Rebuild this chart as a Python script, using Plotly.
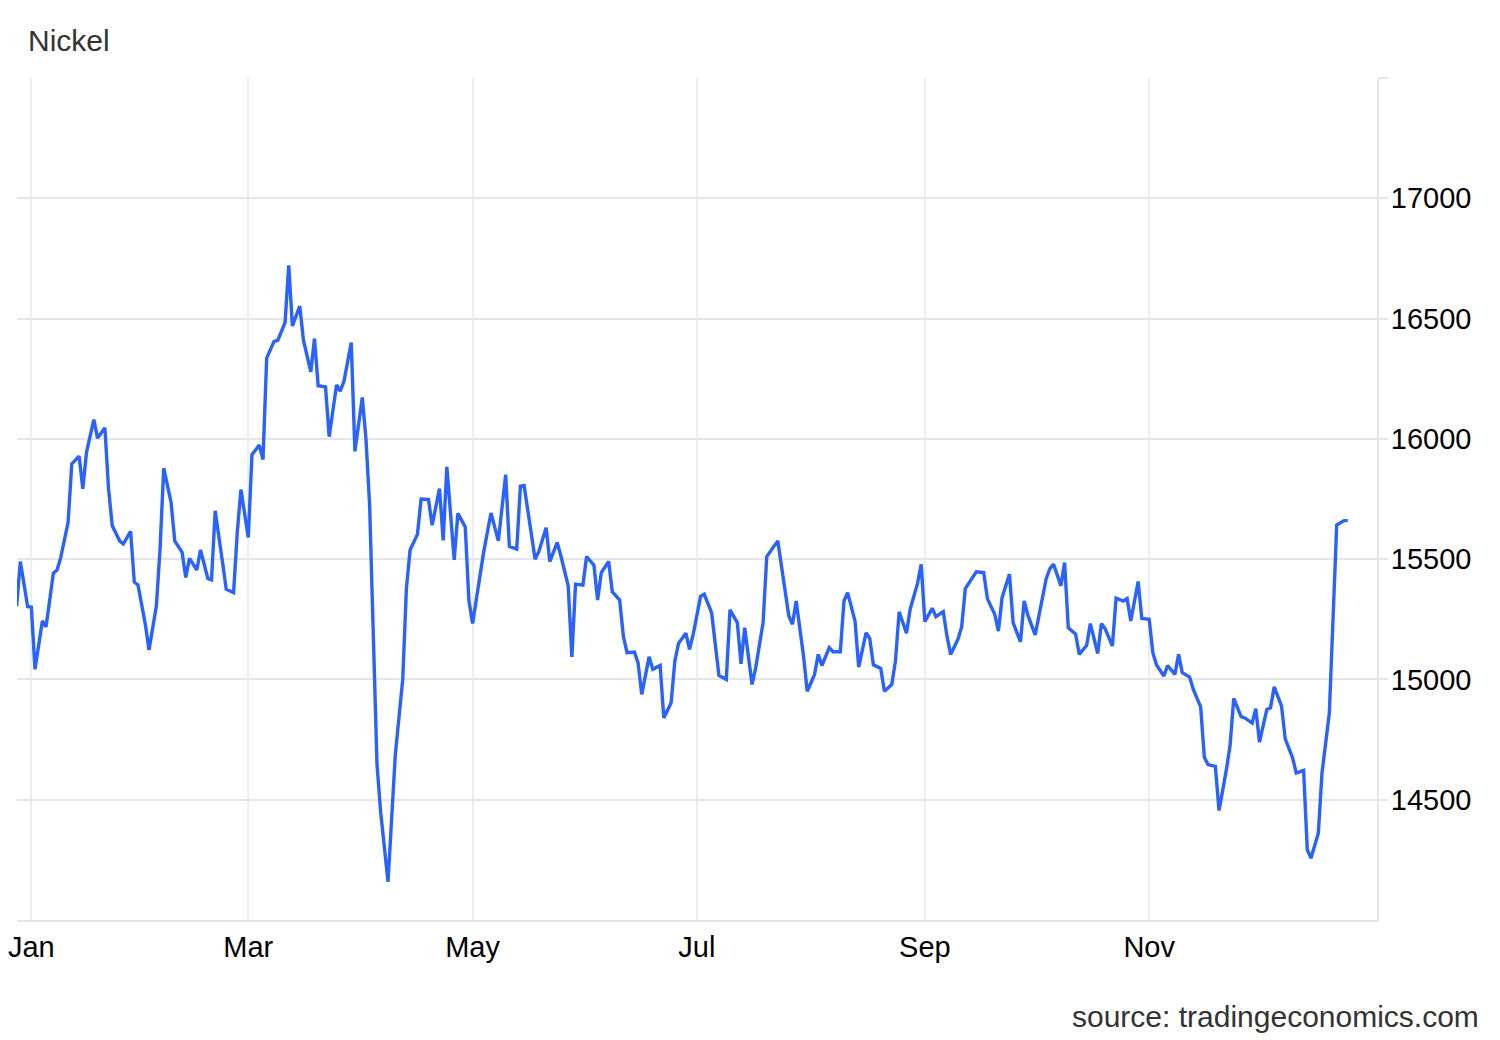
import plotly.graph_objects as go

dates = [
    "2024-12-28", "2024-12-29", "2024-12-31", "2025-01-01", "2025-01-02", "2025-01-04", "2025-01-05",
    "2025-01-07", "2025-01-08", "2025-01-09", "2025-01-11", "2025-01-12", "2025-01-14", "2025-01-15",
    "2025-01-16", "2025-01-18", "2025-01-19", "2025-01-21", "2025-01-22", "2025-01-23", "2025-01-25",
    "2025-01-26", "2025-01-28", "2025-01-29", "2025-01-30", "2025-02-01", "2025-02-02", "2025-02-04",
    "2025-02-05", "2025-02-06", "2025-02-08", "2025-02-09", "2025-02-11", "2025-02-12", "2025-02-13",
    "2025-02-15", "2025-02-16", "2025-02-18", "2025-02-19", "2025-02-20", "2025-02-22", "2025-02-23",
    "2025-02-25", "2025-02-26", "2025-02-27", "2025-03-01", "2025-03-02", "2025-03-04", "2025-03-05",
    "2025-03-06", "2025-03-08", "2025-03-09", "2025-03-11", "2025-03-12", "2025-03-13", "2025-03-15",
    "2025-03-16", "2025-03-18", "2025-03-19", "2025-03-20", "2025-03-22", "2025-03-23", "2025-03-25",
    "2025-03-26", "2025-03-27", "2025-03-29", "2025-03-30", "2025-04-01", "2025-04-02", "2025-04-03",
    "2025-04-05", "2025-04-06", "2025-04-08", "2025-04-09", "2025-04-10", "2025-04-12", "2025-04-13",
    "2025-04-14", "2025-04-16", "2025-04-17", "2025-04-19", "2025-04-20", "2025-04-22", "2025-04-23",
    "2025-04-24", "2025-04-26", "2025-04-27", "2025-04-29", "2025-04-30", "2025-05-01", "2025-05-03",
    "2025-05-04", "2025-05-06", "2025-05-07", "2025-05-08", "2025-05-10", "2025-05-11", "2025-05-13",
    "2025-05-14", "2025-05-15", "2025-05-17", "2025-05-18", "2025-05-19", "2025-05-21", "2025-05-22",
    "2025-05-24", "2025-05-25", "2025-05-27", "2025-05-28", "2025-05-29", "2025-05-31", "2025-06-01",
    "2025-06-03", "2025-06-04", "2025-06-05", "2025-06-07", "2025-06-08", "2025-06-10", "2025-06-11",
    "2025-06-12", "2025-06-14", "2025-06-15", "2025-06-16", "2025-06-18", "2025-06-19", "2025-06-21",
    "2025-06-22", "2025-06-24", "2025-06-25", "2025-06-26", "2025-06-28", "2025-06-29", "2025-06-30",
    "2025-07-02", "2025-07-03", "2025-07-05", "2025-07-06", "2025-07-07", "2025-07-09", "2025-07-10",
    "2025-07-12", "2025-07-13", "2025-07-14", "2025-07-16", "2025-07-17", "2025-07-19", "2025-07-20",
    "2025-07-21", "2025-07-23", "2025-07-24", "2025-07-26", "2025-07-27", "2025-07-28", "2025-07-30",
    "2025-07-31", "2025-08-02", "2025-08-03", "2025-08-04", "2025-08-06", "2025-08-07", "2025-08-09",
    "2025-08-10", "2025-08-11", "2025-08-13", "2025-08-14", "2025-08-16", "2025-08-17", "2025-08-18",
    "2025-08-20", "2025-08-21", "2025-08-23", "2025-08-24", "2025-08-25", "2025-08-27", "2025-08-28",
    "2025-08-30", "2025-08-31", "2025-09-01", "2025-09-03", "2025-09-04", "2025-09-06", "2025-09-07",
    "2025-09-08", "2025-09-10", "2025-09-11", "2025-09-12", "2025-09-14", "2025-09-15", "2025-09-17",
    "2025-09-18", "2025-09-20", "2025-09-21", "2025-09-22", "2025-09-24", "2025-09-25", "2025-09-27",
    "2025-09-28", "2025-09-29", "2025-10-01", "2025-10-02", "2025-10-04", "2025-10-05", "2025-10-06",
    "2025-10-08", "2025-10-09", "2025-10-10", "2025-10-12", "2025-10-13", "2025-10-15", "2025-10-16",
    "2025-10-18", "2025-10-19", "2025-10-20", "2025-10-22", "2025-10-23", "2025-10-25", "2025-10-26",
    "2025-10-27", "2025-10-29", "2025-10-30", "2025-11-01", "2025-11-02", "2025-11-03", "2025-11-05",
    "2025-11-06", "2025-11-08", "2025-11-09", "2025-11-10", "2025-11-12", "2025-11-13", "2025-11-15",
    "2025-11-16", "2025-11-17", "2025-11-19", "2025-11-20", "2025-11-22", "2025-11-23", "2025-11-24",
    "2025-11-26", "2025-11-27", "2025-11-29", "2025-11-30", "2025-12-01", "2025-12-03", "2025-12-04",
    "2025-12-05", "2025-12-07", "2025-12-08", "2025-12-10", "2025-12-11", "2025-12-13", "2025-12-14",
    "2025-12-15", "2025-12-17", "2025-12-18", "2025-12-20", "2025-12-22", "2025-12-24", "2025-12-25",
]

prices = [
    15305, 15490, 15303, 15300, 15042, 15243, 15219,
    15442, 15455, 15507, 15653, 15896, 15928, 15792,
    15944, 16080, 16003, 16046, 15792, 15639, 15576,
    15563, 15615, 15405, 15393, 15229, 15122, 15305,
    15542, 15878, 15736, 15576, 15528, 15424, 15503,
    15455, 15538, 15420, 15414, 15701, 15486, 15375,
    15361, 15611, 15789, 15590, 15934, 15974, 15914,
    16336, 16405, 16409, 16483, 16721, 16469, 16552,
    16410, 16279, 16417, 16221, 16216, 16009, 16224,
    16198, 16238, 16400, 15948, 16172, 16000, 15724,
    14647, 14448, 14159, 14414, 14690, 15000, 15379,
    15538, 15603, 15750, 15748, 15641, 15793, 15578,
    15884, 15497, 15690, 15634, 15328, 15233, 15431,
    15528, 15692, 15639, 15576, 15851, 15553, 15542,
    15803, 15806, 15604, 15500, 15531, 15631, 15490,
    15569, 15514, 15389, 15094, 15396, 15392, 15511,
    15475, 15330, 15444, 15490, 15364, 15330, 15180,
    15111, 15114, 15069, 14938, 15094, 15042, 15058,
    14840, 14903, 15076, 15150, 15192, 15125, 15188,
    15345, 15354, 15278, 15146, 15017, 15000, 15289,
    15236, 15065, 15215, 14979, 15049, 15236, 15511,
    15531, 15576, 15472, 15264, 15229, 15326, 15097,
    14951, 15021, 15104, 15058, 15132, 15115, 15115,
    15326, 15361, 15243, 15051, 15194, 15171, 15061,
    15046, 14951, 14979, 15076, 15281, 15192, 15292,
    15399, 15478, 15240, 15296, 15261, 15282, 15181,
    15104, 15167, 15218, 15378, 15424, 15447, 15444,
    15336, 15271, 15201, 15340, 15438, 15236, 15156,
    15326, 15267, 15185, 15264, 15419, 15461, 15479,
    15389, 15486, 15215, 15188, 15104, 15142, 15232,
    15108, 15232, 15211, 15139, 15338, 15326, 15336,
    15243, 15407, 15253, 15250, 15111, 15060, 15014,
    15058, 15021, 15104, 15028, 15010, 14958, 14886,
    14676, 14646, 14639, 14455, 14625, 14725, 14921,
    14845, 14840, 14819, 14878, 14739, 14875, 14882,
    14969, 14889, 14753, 14674, 14611, 14622, 14292,
    14257, 14361, 14611, 14861, 15642, 15660, 15660,
]

x_tickvals = ["2025-01-01", "2025-03-01", "2025-05-01", "2025-07-01", "2025-09-01", "2025-11-01"]
x_ticktext = ["Jan", "Mar", "May", "Jul", "Sep", "Nov"]

y_tickvals = [14500, 15000, 15500, 16000, 16500, 17000, 17500]
y_ticktext = ["14500", "15000", "15500", "16000", "16500", "17000", ""]

title_text = "Nickel"
source_text = "source: tradingeconomics.com"

FONT = "Liberation Sans, Arial, Helvetica, sans-serif"

fig = go.Figure()
fig.add_trace(go.Scatter(
    x=dates, y=prices, mode="lines",
    line=dict(color="#2962ff", width=3.4),
    hoverinfo="x+y", showlegend=False,
))

fig.update_layout(
    width=1500, height=1040,
    margin=dict(l=17, r=123, t=78, b=120, autoexpand=False),
    paper_bgcolor="white", plot_bgcolor="white",
    font=dict(family=FONT, size=29, color="#000000"),
    xaxis=dict(
        type="date",
        range=["2024-12-28 02:24", "2026-01-01 23:00"],
        tickmode="array", tickvals=x_tickvals, ticktext=x_ticktext,
        showgrid=True, gridcolor="#eaeff5", gridwidth=2,
        showline=True, linecolor="#e6e6e6", linewidth=2,
        ticks="", zeroline=False, automargin=False,
        tickfont=dict(family=FONT, size=29, color="#000000"),
    ),
    yaxis=dict(
        side="right",
        range=[14000, 17500],
        tickmode="array", tickvals=y_tickvals, ticktext=y_ticktext,
        showgrid=True, gridcolor="#e6e6e6", gridwidth=2,
        showline=True, linecolor="#e6e6e6", linewidth=2,
        ticks="outside", ticklen=9, tickwidth=2, tickcolor="#e6e6e6",
        ticklabelstandoff=-3,
        zeroline=False, automargin=False,
        tickfont=dict(family=FONT, size=29, color="#000000"),
    ),
    annotations=[
        dict(text=title_text, xref="paper", yref="paper",
             x=(26 - 17) / 1360, y=1 + (78 - 40) / 842,
             xanchor="left", yanchor="middle", showarrow=False,
             font=dict(family=FONT, size=30, color="#333333")),
        dict(text=source_text, xref="paper", yref="paper",
             x=(1481 - 17) / 1360, y=-(1016 - 920) / 842,
             xanchor="right", yanchor="middle", showarrow=False,
             font=dict(family=FONT, size=30, color="#333333")),
    ],
)

fig.write_html("out.html", config={"displayModeBar": False},
               post_script="document.body.style.margin='0';")
